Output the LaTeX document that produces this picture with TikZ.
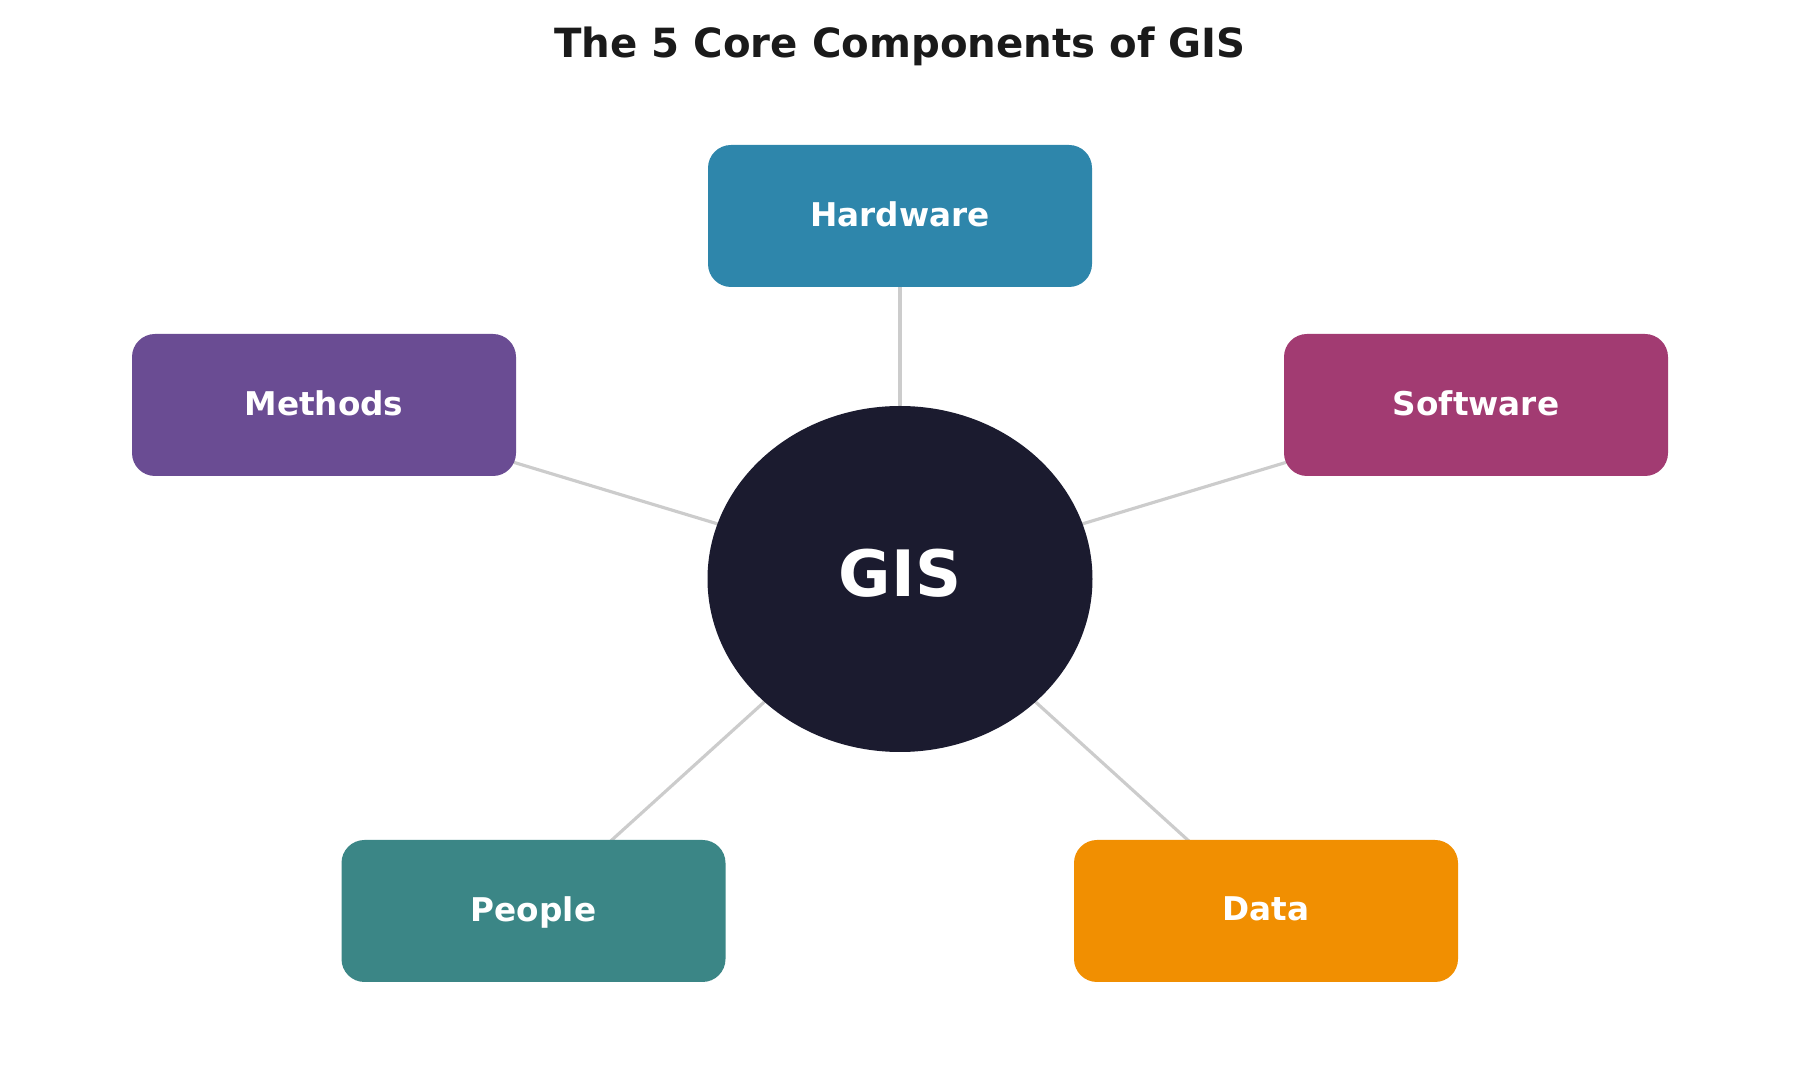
\documentclass[tikz,border=0pt]{standalone}
\usepackage{fontspec}
\setmainfont{DejaVu Sans}
\usepackage{xcolor}
\usepackage{tikz}
\usetikzlibrary{shapes,positioning,calc,backgrounds}

\definecolor{hwblue}{HTML}{2E86AB}
\definecolor{mtpurple}{HTML}{6A4C93}
\definecolor{swmagenta}{HTML}{A23B72}
\definecolor{ppteal}{HTML}{3B8686}
\definecolor{dtorange}{HTML}{F18F01}
\definecolor{gisnavy}{HTML}{1B1B2F}
\definecolor{titlegray}{HTML}{1A1A1A}
\definecolor{linkgray}{HTML}{CCCCCC}

\begin{document}
\begin{tikzpicture}[
    component/.style={rectangle, rounded corners=0.23cm, minimum width=3.84cm, minimum height=1.42cm,
        text=white, font=\fontsize{9.3}{11}\selectfont\bfseries, text depth=0.04cm, inner sep=0pt},
    core/.style={ellipse, fill=gisnavy, minimum width=3.85cm, minimum height=3.46cm,
        text=white, font=\fontsize{18.2}{21}\selectfont\bfseries, text depth=0.12cm, inner sep=0pt},
    link/.style={draw=linkgray, line width=0.9pt}
]
\useasboundingbox (0,0) rectangle (18,-10.8);

% Title
\node[font=\fontsize{11.45}{14}\selectfont\bfseries, text=titlegray] (title) at (9,-0.46) {The 5 Core Components of GIS};

% Centre
\node[core] (gis) at (9,-5.79) {GIS};

% Components
\node[component, fill=hwblue] (hardware) at (9,-2.16) {Hardware};
\node[component, fill=swmagenta] (software) at (14.76,-4.05) {Software};
\node[component, fill=dtorange] (data) at (12.66,-9.11) {Data};
\node[component, fill=ppteal] (people) at (5.335,-9.11) {People};
\node[component, fill=mtpurple] (methods) at (3.24,-4.05) {Methods};

% Links
\begin{scope}[on background layer]
\foreach \c in {hardware,software,data,people,methods}
    \draw[link] (gis.center) -- (\c.center);
\end{scope}

\end{tikzpicture}
\end{document}
